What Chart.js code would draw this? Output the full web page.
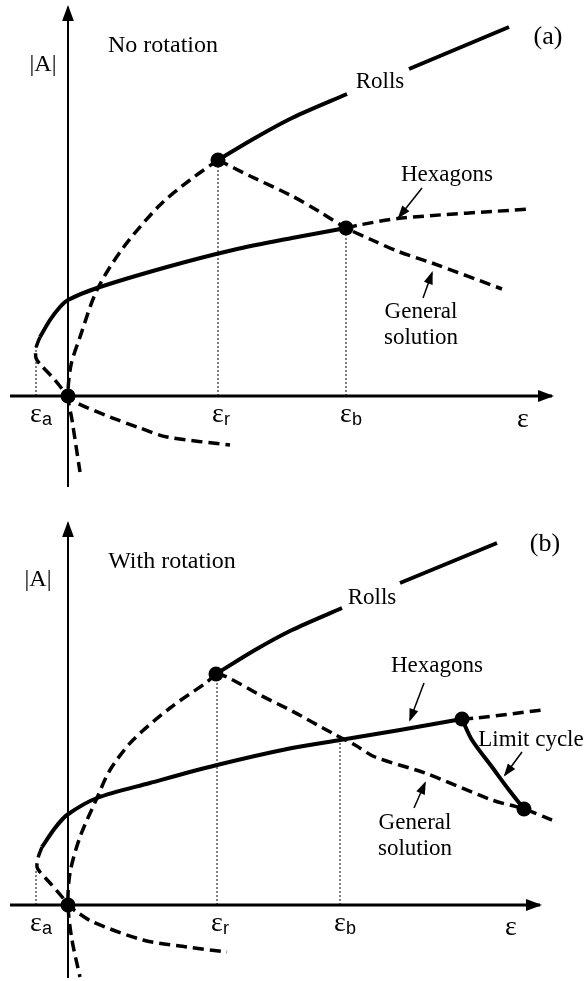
<!DOCTYPE html>
<html>
<head>
<meta charset="utf-8">
<title>Rolls and hexagons</title>
<script src="https://cdn.jsdelivr.net/npm/chart.js@4.4.1/dist/chart.umd.min.js"></script>
<style>
  body { margin: 0; background: #fff; }
  canvas { display: block; }
</style>
</head>
<body>
<canvas id="panelA" width="584" height="490"></canvas>
<canvas id="panelB" width="584" height="491"></canvas>
<script>
// values, origin = where the two axes cross

// panel (a) - no rotation
var rollsA = [{x:150,y:236},{x:187,y:258},{x:224,y:278},{x:279,y:302},{x:310,y:null},{x:341,y:327},{x:441,y:369}];
var rollsUnstableA = [{x:150,y:236},{x:122,y:216},{x:92,y:191},{x:55,y:148},{x:29,y:106},{x:12,y:59},{x:3,y:31},{x:0,y:0},{x:4,y:-24},{x:12,y:-76}];
var hexA = [{x:-28,y:59},{x:-18,y:76},{x:-8,y:89},{x:0,y:96},{x:29,y:108},{x:99,y:129},{x:165,y:146},{x:224,y:158},{x:278,y:168}];
var hexLowerA = [{x:-28,y:59},{x:-32,y:48},{x:-32,y:38},{x:-28,y:32},{x:-13,y:16},{x:0,y:0},{x:9,y:-7},{x:42,y:-21},{x:72,y:-32},{x:99,y:-41},{x:162,y:-49}];
var hexUpperA = [{x:278,y:168},{x:291,y:171},{x:334,y:178},{x:462,y:187}];
var generalA = [{x:150,y:236},{x:182,y:220},{x:224,y:200},{x:252,y:184},{x:278,y:168},{x:304,y:156},{x:329,y:145},{x:364,y:133},{x:434,y:107}];
var dotsA = [{x:150,y:236},{x:278,y:168},{x:0,y:0}];
var tickValuesA = [-32, 150, 278];
var tickHeightsA = [49, 236, 168];

// panel (b) - with rotation
var rollsB = [{x:148,y:231},{x:187,y:255},{x:224,y:275},{x:274,y:297},{x:300,y:null},{x:332,y:322},{x:429,y:362}];
var rollsUnstableB = [{x:148,y:231},{x:139,y:223},{x:102,y:197},{x:65,y:165},{x:42,y:135},{x:29,y:107},{x:12,y:68},{x:2,y:32},{x:0,y:0},{x:4,y:-35},{x:12,y:-72}];
var hexB = [{x:-26,y:58},{x:-13,y:77},{x:-1,y:90},{x:29,y:107},{x:82,y:122},{x:149,y:140},{x:224,y:157},{x:272,y:165},{x:332,y:175},{x:394,y:186}];
var hexLowerB = [{x:-26,y:58},{x:-30,y:47},{x:-31,y:38},{x:-28,y:33},{x:-18,y:22},{x:-5,y:7},{x:0,y:0},{x:9,y:-7},{x:25,y:-17},{x:75,y:-35},{x:119,y:-42},{x:159,y:-47}];
var hexUpperB = [{x:394,y:186},{x:409,y:187},{x:474,y:195}];
var generalB = [{x:148,y:231},{x:159,y:228},{x:192,y:210},{x:224,y:194},{x:264,y:172},{x:287,y:160},{x:307,y:148},{x:357,y:132},{x:424,y:105},{x:456,y:96},{x:484,y:85}];
var limitCycleB = [{x:394,y:186},{x:404,y:165},{x:424,y:138},{x:441,y:115},{x:456,y:96}];
var dotsB = [{x:148,y:231},{x:394,y:186},{x:456,y:96},{x:0,y:0}];
var tickValuesB = [-32, 149, 272];
var tickHeightsB = [35, 231, 165];

var tickNames = ['a', 'r', 'b'];

var SERIF = '"Liberation Serif", "Times New Roman", serif';
var SANS = '"Liberation Sans", Arial, sans-serif';

// arrow heads + text, drawn on top of the datasets
var extras = {
    id: 'extras',
    afterDatasetsDraw: function (chart) {
        var ctx = chart.ctx;
        var xs = chart.scales.x;
        var ys = chart.scales.y;
        var opts = chart.options.plugins.extras;

        chart.data.datasets.forEach(function (ds) {
            if (!ds.arrow) return;
            var n = ds.data.length;
            var x0 = xs.getPixelForValue(ds.data[n - 2].x), y0 = ys.getPixelForValue(ds.data[n - 2].y);
            var x1 = xs.getPixelForValue(ds.data[n - 1].x), y1 = ys.getPixelForValue(ds.data[n - 1].y);
            var ang = Math.atan2(y1 - y0, x1 - x0);
            var len = ds.arrow, w = ds.arrow * 0.42;
            var bx = x1 - len * Math.cos(ang), by = y1 - len * Math.sin(ang);
            ctx.save();
            ctx.fillStyle = '#000';
            ctx.beginPath();
            ctx.moveTo(x1 + 2 * Math.cos(ang), y1 + 2 * Math.sin(ang));
            ctx.lineTo(bx + w * Math.sin(ang), by - w * Math.cos(ang));
            ctx.lineTo(bx - w * Math.sin(ang), by + w * Math.cos(ang));
            ctx.closePath();
            ctx.fill();
            ctx.restore();
        });

        ctx.save();
        ctx.fillStyle = '#000';
        ctx.textBaseline = 'middle';
        opts.labels.forEach(function (lb) {
            var px = xs.getPixelForValue(lb.x), py = ys.getPixelForValue(lb.y);
            ctx.font = lb.size + 'px ' + SERIF;
            ctx.textAlign = lb.align || 'center';
            ctx.fillText(lb.text, px, py);
        });

        // epsilon ticks under the horizontal axis
        opts.ticks.forEach(function (v, i) {
            var px = xs.getPixelForValue(v), py = ys.getPixelForValue(0) + 19;
            ctx.font = '28px ' + SERIF;
            ctx.textAlign = 'center';
            ctx.fillText('\u03b5', px, py);
            ctx.font = '18px ' + SANS;
            ctx.textAlign = 'left';
            ctx.fillText(tickNames[i], px + 6, py + 5);
        });
        ctx.restore();
    }
};

function line(data, width, dash, tension) {
    return {
        type: 'scatter',
        data: data,
        showLine: true,
        borderColor: '#000',
        borderWidth: width,
        borderDash: dash || [],
        borderCapStyle: 'butt',
        tension: tension || 0,
        pointRadius: 0,
        fill: false
    };
}

function pointer(from, to, size, width) {
    var ds = line([from, to], width || 1.5);
    ds.arrow = size;
    return ds;
}

function makePanel(id, p) {
    var dash = [11, 6];
    var datasets = [
        { type: 'scatter', data: p.dots, pointRadius: 7.5, pointBackgroundColor: '#000', pointBorderWidth: 0, showLine: false }
    ];
    p.solid.forEach(function (d) { datasets.push(line(d, 4, null, 0.3)); });
    p.dashed.forEach(function (d) { datasets.push(line(d, 3.5, dash, 0.3)); });
    p.ticks.forEach(function (v, i) {
        datasets.push(line([{x: v, y: 0}, {x: v, y: p.tickHeights[i]}], 1, [2, 2]));
    });
    p.pointers.forEach(function (a) { datasets.push(pointer(a[0], a[1], 11)); });
    // axes
    datasets.push(pointer({x: -58, y: 0}, {x: p.xEnd, y: 0}, 14, 3));
    datasets.push(pointer({x: 0, y: p.yMin + 3}, {x: 0, y: p.yEnd}, 14, 2));

    datasets.forEach(function (d) { d.borderColor = '#000'; d.clip = false; });

    return new Chart(document.getElementById(id), {
        type: 'scatter',
        data: { datasets: datasets },
        options: {
            responsive: false,
            animation: false,
            events: [],
            layout: { padding: 0, autoPadding: false },
            scales: {
                x: { type: 'linear', min: -68, max: 516, display: false },
                y: { type: 'linear', min: p.yMin, max: p.yMax, display: false }
            },
            plugins: {
                legend: { display: false },
                tooltip: { enabled: false },
                extras: { labels: p.labels, ticks: p.ticks }
            }
        },
        plugins: [extras]
    });
}

makePanel('panelA', {
    yMin: -94, yMax: 396, xEnd: 484, yEnd: 389,
    dots: dotsA,
    solid: [rollsA, hexA],
    dashed: [rollsUnstableA, hexLowerA, hexUpperA, generalA],
    ticks: tickValuesA, tickHeights: tickHeightsA,
    pointers: [
        [{x: 354, y: 208}, {x: 331, y: 179}],
        [{x: 355, y: 98}, {x: 364, y: 123}]
    ],
    labels: [
        {text: '|A|', x: -25, y: 331, size: 24},
        {text: 'No rotation', x: 95, y: 350, size: 24},
        {text: '(a)', x: 480, y: 359, size: 26},
        {text: 'Rolls', x: 312, y: 314, size: 23},
        {text: 'Hexagons', x: 379, y: 221, size: 23},
        {text: 'General', x: 353, y: 84, size: 23},
        {text: 'solution', x: 353, y: 58, size: 23},
        {text: '\u03b5', x: 455, y: -24, size: 28}
    ]
});

makePanel('panelB', {
    yMin: -76, yMax: 415, xEnd: 472, yEnd: 382,
    dots: dotsB,
    solid: [rollsB, hexB, limitCycleB],
    dashed: [rollsUnstableB, hexLowerB, hexUpperB, generalB],
    ticks: tickValuesB, tickHeights: tickHeightsB,
    pointers: [
        [{x: 356, y: 222}, {x: 342, y: 185}],
        [{x: 454, y: 153}, {x: 437, y: 130}],
        [{x: 346, y: 97}, {x: 357, y: 122}]
    ],
    labels: [
        {text: '|A|', x: -30, y: 325, size: 24},
        {text: 'With rotation', x: 104, y: 343, size: 24},
        {text: '(b)', x: 477, y: 361, size: 26},
        {text: 'Rolls', x: 304, y: 307, size: 23},
        {text: 'Hexagons', x: 369, y: 239, size: 23},
        {text: 'Limit cycle', x: 463, y: 165, size: 23},
        {text: 'General', x: 347, y: 82, size: 23},
        {text: 'solution', x: 347, y: 56, size: 23},
        {text: '\u03b5', x: 443, y: -23, size: 28}
    ]
});
</script>
</body>
</html>
